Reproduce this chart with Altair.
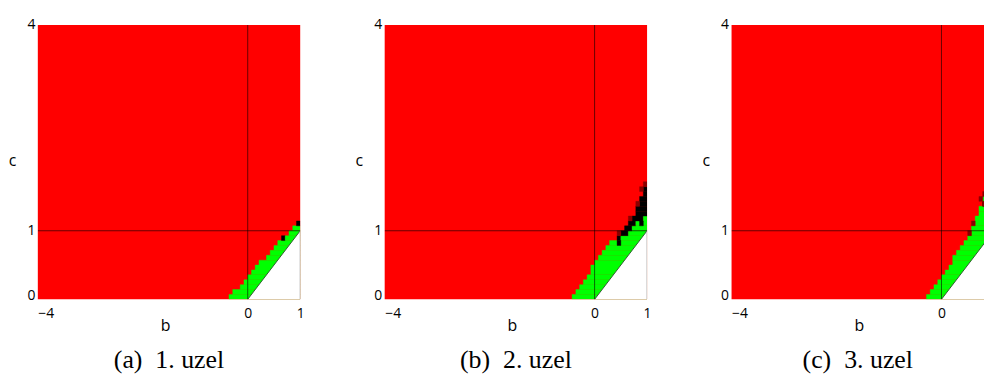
import altair as alt
import pandas as pd

# ---- data ----
CELL = 1 / 14            # grid step of the computed map (b and c)
B_RANGE = [-4, 1]
C_RANGE = [0, 4]
X_TICKS = [-4, 0, 1]
Y_TICKS = [0, 1, 4]
CAPTIONS = ["(a)\u00a0 1. uzel", "(b)\u00a0 2. uzel", "(c)\u00a0 3. uzel"]

# per row i (c from i*CELL to (i+1)*CELL): grid index (b = k*CELL) where red ends / green starts
p1_red_end     = [-5, -4, -2, -1, 0, 1, 2, 3, 5, 6, 7, 8, 9, 11, 12, 13]
p1_green_start = [-5, -4, -2, -1, 0, 1, 2, 3, 5, 6, 7, 8, 10, 11, 12, 14]
p1_black_rows, p1_black_cols = [], []
p1_dark_rows, p1_dark_cols = [], []

p2_red_end     = [-6, -5, -4, -3, -2, -1, -1, 0, 1, 2, 3, 4, 6, 7, 8, 9, 10, 11, 11, 12, 12, 13, 13]
p2_green_start = [-6, -5, -4, -3, -2, -1, -1, 0, 1, 2, 3, 4, 7, 9, 10, 11, 13, 14, 14, 14, 14, 14, 14]
p2_black_rows, p2_black_cols = [11, 15], [6, 12]
p2_dark_rows, p2_dark_cols = [23, 13, 16, 19, 22], [13, 6, 9, 11, 12]

p3_red_end     = [-4, -3, -2, -1, 0, 1, 2, 3, 3, 4, 5, 6, 7, 8, 8, 9, 9, 10, 10, 11, 11, 12]
p3_green_start = [-4, -3, -2, -1, 0, 1, 2, 3, 3, 4, 5, 6, 7, 8, 8, 9, 9, 10, 10, 12, 11, 12]
p3_black_rows, p3_black_cols = [], []
p3_dark_rows, p3_dark_cols = [13, 15, 20, 21, 19], [7, 8, 10, 11, 11]

RED, GREEN, BLACK, DARK = "#FF0000", "#00FF00", "#000000", "#8A0000"
FONT = "Open Sans"
SERIF = "Liberation Serif"

PANEL_W, PANEL_H = 264, 276


def cells(red_end, green_start, brows, bcols, drows, dcols):
    out = []
    for i, (r, g) in enumerate(zip(red_end, green_start)):
        c0, c1 = i * CELL, (i + 1) * CELL
        if g > r:
            out.append(dict(b0=r * CELL, b1=min(g, 14) * CELL, c0=c0, c1=c1, fill=BLACK))
        if g < 14:
            out.append(dict(b0=g * CELL, b1=1.0, c0=c0, c1=c1, fill=GREEN))
    for i, k in zip(brows, bcols):
        out.append(dict(b0=k * CELL, b1=(k + 1) * CELL, c0=i * CELL, c1=(i + 1) * CELL, fill=BLACK))
    for i, k in zip(drows, dcols):
        out.append(dict(b0=k * CELL, b1=(k + 1) * CELL, c0=i * CELL, c1=(i + 1) * CELL, fill=DARK))
    return pd.DataFrame(out)


def panel(df, caption, width, xticks):
    xmax = B_RANGE[0] + (B_RANGE[1] - B_RANGE[0]) * width / PANEL_W
    xs = alt.Scale(domain=[B_RANGE[0], xmax], nice=False, zero=False)
    ys = alt.Scale(domain=C_RANGE, nice=False, zero=False)
    xaxis = alt.Axis(values=xticks, title="b", ticks=False, domain=False, grid=False,
                     labelPadding=7, labelFontSize=14, labelFont=FONT, labelColor="#000",
                     labelAlign=alt.ExprRef("datum.value == -4 ? 'left' : 'center'"),
                     titleFont=FONT, titleFontSize=16, titleFontWeight="normal", titleColor="#000",
                     titleX=128, titleY=26, titleBaseline="middle")
    yaxis = alt.Axis(values=Y_TICKS, title="c", ticks=False, domain=False, grid=False,
                     labelPadding=3, labelFontSize=14, labelFont=FONT, labelColor="#000",
                     labelBaseline=alt.ExprRef("datum.value == 0 ? 'alphabetic' : 'middle'"),
                     titleFont=FONT, titleFontSize=16, titleFontWeight="normal", titleColor="#000",
                     titleAngle=0, titleX=-26, titleY=136, titleAlign="center", titleBaseline="middle")

    def enc(ch):
        return ch.encode(x=alt.X("b0:Q", scale=xs, axis=xaxis), x2="b1:Q",
                         y=alt.Y("c0:Q", scale=ys, axis=yaxis), y2="c1:Q")

    rects = enc(alt.Chart(df).mark_rect(clip=True, strokeWidth=0.4)).encode(
        color=alt.Color("fill:N", scale=None), stroke=alt.Stroke("fill:N", scale=None))

    tri = pd.DataFrame({"b0": [0.0, 1.0], "b1": [0.0, 1.0], "c0": [0.0, 1.0], "c1": [0.0, 0.0]})
    area = alt.Chart(tri).mark_area(clip=True, color="white").encode(
        x=alt.X("b0:Q", scale=xs, axis=xaxis), y=alt.Y("c0:Q", scale=ys, axis=yaxis), y2="c1:Q")
    diag = alt.Chart(tri).mark_line(clip=True, color="#2E5E2E", strokeWidth=1).encode(
        x=alt.X("b0:Q", scale=xs, axis=xaxis), y=alt.Y("c0:Q", scale=ys, axis=yaxis))

    lines = pd.DataFrame({"b0": [0.0, -4.0], "b1": [0.0, 1.0], "c0": [0.0, 1.0], "c1": [4.0, 1.0]})
    rules = enc(alt.Chart(lines).mark_rule(clip=True, color="black", opacity=0.6, strokeWidth=1))

    edge = pd.DataFrame({"b0": [1.0], "b1": [1.0], "c0": [0.0], "c1": [1.0]})
    edge_rule = enc(alt.Chart(edge).mark_rule(clip=True, color="#A8A8A8", strokeWidth=1))

    return alt.layer(rects, area, diag, rules, edge_rule).properties(
        width=width, height=PANEL_H,
        title=alt.TitleParams(caption, orient="bottom", anchor="middle", font=SERIF,
                              fontSize=26, fontWeight="normal", color="#000", offset=14))


d1 = cells(p1_red_end, p1_green_start, p1_black_rows, p1_black_cols, p1_dark_rows, p1_dark_cols)
d2 = cells(p2_red_end, p2_green_start, p2_black_rows, p2_black_cols, p2_dark_rows, p2_dark_cols)
d3 = cells(p3_red_end, p3_green_start, p3_black_rows, p3_black_cols, p3_dark_rows, p3_dark_cols)

chart = alt.hconcat(
    panel(d1, CAPTIONS[0], PANEL_W, X_TICKS),
    panel(d2, CAPTIONS[1], PANEL_W, X_TICKS),
    panel(d3, CAPTIONS[2], 254, [-4, 0]),
    spacing=50,
).configure_view(fill=RED, stroke=None).properties(
    padding={"left": 0, "top": 9, "right": 0, "bottom": 0}, background="white")

chart.save("out.html", embed_options={"renderer": "svg", "actions": False})
